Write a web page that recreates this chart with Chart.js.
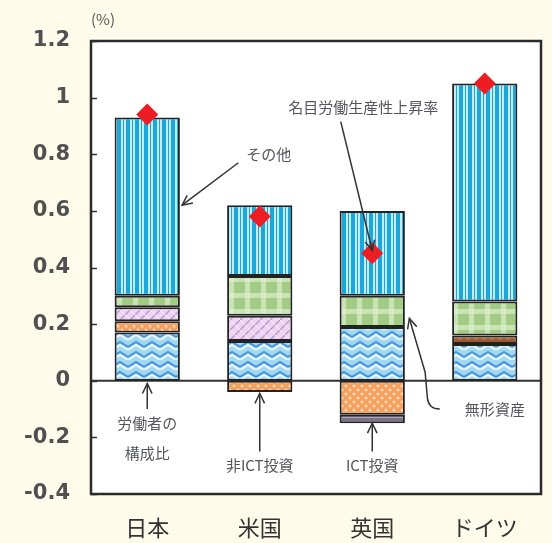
<!DOCTYPE html>
<html>
<head>
<meta charset="utf-8">
<script src="https://cdn.jsdelivr.net/npm/chart.js@4"></script>
<style>
  html, body { margin: 0; padding: 0; background: #fffbea; }
  #wrap { width: 552px; height: 543px; }
</style>
</head>
<body>
<div id="wrap"><canvas id="c" width="552" height="543"></canvas></div>
<script>
// データ（%ポイント）
const countries = ['日本', '米国', '英国', 'ドイツ'];
const labour = [0.17, 0.14, 0.19, 0.13];      // 労働者の構成比
const nonIct = [0.04, -0.04, -0.12, 0.03];    // 非ICT投資
const ict = [0.05, 0.09, -0.03, 0];           // ICT投資
const intangible = [0.04, 0.14, 0.11, 0.12];  // 無形資産
const other = [0.63, 0.25, 0.30, 0.77];       // その他
const nominal = [0.94, 0.58, 0.45, 1.05];     // 名目労働生産性上昇率
const yMin = -0.4, yMax = 1.2, yStep = 0.2;

const FONT = "'Noto Sans CJK JP', 'Noto Sans', sans-serif";

function pattern(w, h, draw) {
  const c = document.createElement('canvas');
  c.width = w; c.height = h;
  const g = c.getContext('2d');
  draw(g, w, h);
  return document.createElement('canvas').getContext('2d').createPattern(c, 'repeat');
}

// 縦縞（その他）
const stripes = pattern(9, 4, (g) => {
  g.fillStyle = '#1ca7db'; g.fillRect(0, 0, 9, 4);
  g.fillStyle = '#c3ebf8'; g.fillRect(4, 0, 2, 4); g.fillRect(7, 0, 2, 4);
});
// 波（労働者の構成比）
const waves = pattern(16, 10, (g) => {
  g.fillStyle = '#a3daf3'; g.fillRect(0, 0, 16, 10);
  g.lineWidth = 2;
  g.strokeStyle = '#4a93dc';
  g.beginPath(); g.moveTo(0, 7); g.lineTo(8, 2); g.lineTo(16, 7); g.stroke();
  g.strokeStyle = '#e9f7fd';
  g.beginPath(); g.moveTo(0, 10); g.lineTo(8, 5); g.lineTo(16, 10); g.stroke();
});
// 点（非ICT投資）
const dots = pattern(8, 8, (g) => {
  g.fillStyle = '#f4a05e'; g.fillRect(0, 0, 8, 8);
  g.fillStyle = '#fcd8b4';
  g.beginPath(); g.arc(2, 2, 1.5, 0, Math.PI * 2); g.fill();
  g.beginPath(); g.arc(6, 6, 1.5, 0, Math.PI * 2); g.fill();
});
const brown = pattern(8, 6, (g) => {
  g.fillStyle = '#9a5a36'; g.fillRect(0, 0, 8, 6);
  g.strokeStyle = '#c98c5c'; g.lineWidth = 1;
  g.beginPath(); g.arc(4, 0, 3, 0, Math.PI); g.stroke();
});
// 斜線（ICT投資）
const hatch = pattern(10, 10, (g) => {
  g.fillStyle = '#edd4f3'; g.fillRect(0, 0, 10, 10);
  g.strokeStyle = '#bf98d0'; g.lineWidth = 1.5;
  g.beginPath(); g.moveTo(0, 10); g.lineTo(10, 0); g.stroke();
  g.strokeStyle = '#f8eefa'; g.lineWidth = 1;
  g.beginPath(); g.moveTo(0, 0); g.lineTo(10, 10); g.stroke();
});
const darkIct = pattern(6, 4, (g) => {
  g.fillStyle = '#7d7187'; g.fillRect(0, 0, 6, 4);
  g.fillStyle = '#b3a9bc'; g.fillRect(0, 1, 6, 1);
});
// 格子（無形資産）
const plaid = pattern(16, 16, (g) => {
  g.fillStyle = '#a2cc84'; g.fillRect(0, 0, 16, 16);
  g.fillStyle = 'rgba(225,242,212,0.6)';
  g.fillRect(5, 0, 5, 16); g.fillRect(0, 5, 16, 5);
});

const bar = (label, data, bg) => ({
  type: 'bar', label, data, backgroundColor: bg,
  borderColor: '#222', borderWidth: 2, borderSkipped: false,
  barPercentage: 0.58, categoryPercentage: 1.0, order: 1
});

// 注記
const notes = [
  { text: 'その他', at: [1.08, 0.80], from: [0.81, 0.77], to: [0.31, 0.62] },
  { text: '名目労働生産性上昇率', at: [1.92, 0.965], from: [1.72, 0.915], to: [2.0, 0.46] },
  { text: '労働者の', at: [0, -0.15] },
  { text: '構成比', at: [0, -0.255], from: [0, -0.10], to: [0, -0.01] },
  { text: '非ICT投資', at: [1, -0.30], from: [1, -0.25], to: [1, -0.045] },
  { text: 'ICT投資', at: [2, -0.30], from: [2, -0.25], to: [2, -0.15] },
  { text: '無形資産', at: [3.09, -0.10] }
];

function arrowHead(ctx, x0, y0, x1, y1) {
  const a = Math.atan2(y1 - y0, x1 - x0);
  const L = 11, s = 0.45;
  ctx.beginPath();
  ctx.moveTo(x1 - L * Math.cos(a - s), y1 - L * Math.sin(a - s));
  ctx.lineTo(x1, y1);
  ctx.lineTo(x1 - L * Math.cos(a + s), y1 - L * Math.sin(a + s));
  ctx.stroke();
}

const framePlugin = {
  id: 'frame',
  beforeDraw(chart) {
    const { ctx, chartArea: a } = chart;
    ctx.save();
    ctx.fillStyle = '#ffffff';
    ctx.fillRect(a.left, a.top, a.right - a.left, a.bottom - a.top);
    ctx.restore();
  },
  beforeDatasetsDraw(chart) {
    const { ctx, chartArea: a, scales } = chart;
    const y = scales.y;
    ctx.save();
    ctx.strokeStyle = '#333';
    ctx.lineWidth = 1.5;
    for (let v = yMin; v <= yMax + 1e-9; v += yStep) {
      const py = Math.round(y.getPixelForValue(v)) + 0.5;
      ctx.beginPath(); ctx.moveTo(a.left, py); ctx.lineTo(a.left + 6, py); ctx.stroke();
    }
    ctx.lineWidth = 2;
    const z = y.getPixelForValue(0);
    ctx.beginPath(); ctx.moveTo(a.left, z); ctx.lineTo(a.right, z); ctx.stroke();
    ctx.restore();
  },
  afterDraw(chart) {
    const { ctx, chartArea: a, scales } = chart;
    const P = (p) => [scales.x.getPixelForValue(p[0]), scales.y.getPixelForValue(p[1])];
    ctx.save();
    ctx.strokeStyle = '#2b2b2b';
    ctx.lineWidth = 2.5;
    ctx.strokeRect(a.left, a.top, a.right - a.left, a.bottom - a.top);

    ctx.fillStyle = '#555';
    ctx.font = '15px ' + FONT;
    ctx.textAlign = 'center';
    ctx.textBaseline = 'middle';
    ctx.fillText('(%)', a.left + 12, a.top - 22);

    ctx.fillStyle = '#55555f';
    ctx.strokeStyle = '#333';
    ctx.lineWidth = 1.5;
    notes.forEach((n) => {
      const [tx, ty] = P(n.at);
      ctx.fillText(n.text, tx, ty);
      if (n.from) {
        const [x0, y0] = P(n.from), [x1, y1] = P(n.to);
        ctx.beginPath(); ctx.moveTo(x0, y0); ctx.lineTo(x1, y1); ctx.stroke();
        arrowHead(ctx, x0, y0, x1, y1);
      }
    });
    // 無形資産 の引き出し線
    const t = P([2.33, 0.22]), m = P([2.47, 0.03]), b = P([2.49, -0.06]), c = P([2.5, -0.1]), e = P([2.6, -0.1]);
    ctx.beginPath();
    ctx.moveTo(t[0], t[1]); ctx.lineTo(m[0], m[1]); ctx.lineTo(b[0], b[1]);
    ctx.quadraticCurveTo(c[0], c[1], e[0], e[1]);
    ctx.stroke();
    arrowHead(ctx, m[0], m[1], t[0], t[1]);
    ctx.restore();
  }
};

const chart = new Chart(document.getElementById('c'), {
  type: 'bar',
  data: {
    labels: countries,
    datasets: [
      bar('労働者の構成比', labour, waves),
      bar('非ICT投資', nonIct, [dots, dots, dots, brown]),
      bar('ICT投資', ict, [hatch, hatch, darkIct, hatch]),
      bar('無形資産', intangible, plaid),
      bar('その他', other, stripes),
      {
        type: 'line', label: '名目労働生産性上昇率', data: nominal,
        yAxisID: 'y2', showLine: false, pointStyle: 'rectRot',
        pointRadius: 11, pointBackgroundColor: '#ee1d24', pointBorderWidth: 0,
        order: 0
      }
    ]
  },
  options: {
    responsive: false,
    animation: false,
    layout: { padding: { top: 41, right: 4, left: 0, bottom: 0 } },
    plugins: { legend: { display: false }, tooltip: { enabled: false } },
    scales: {
      x: {
        stacked: true,
        grid: { display: false },
        border: { display: false },
        ticks: { color: '#333', font: { family: FONT, size: 22 }, padding: 12 },
        afterFit: (s) => { s.height = 49; }
      },
      y: {
        stacked: true,
        min: yMin, max: yMax,
        grid: { display: false },
        border: { display: false },
        ticks: {
          stepSize: yStep, color: '#505050', padding: 13,
          font: { family: "'DejaVu Sans', sans-serif", size: 21, weight: 'bold' },
          callback: (v) => String(Math.round(v * 10) / 10)
        },
        afterFit: (s) => { s.width = 91; }
      },
      y2: { display: false, min: yMin, max: yMax }
    }
  },
  plugins: [framePlugin]
});
</script>
</body>
</html>
